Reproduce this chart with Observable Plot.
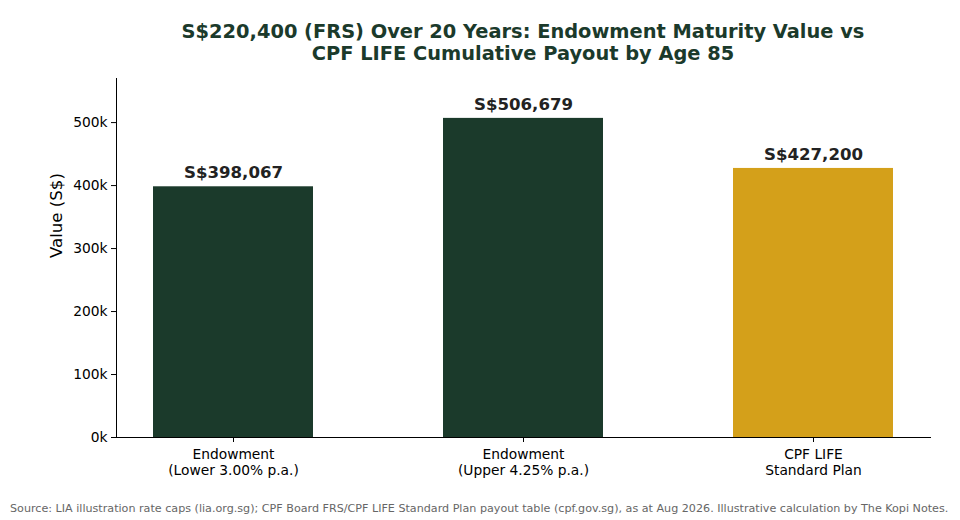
<!DOCTYPE html>
<html><head><meta charset="utf-8">
<script src="https://cdn.jsdelivr.net/npm/d3@7"></script>
<script src="https://cdn.jsdelivr.net/npm/@observablehq/plot@0.6"></script>
<style>
body{margin:0;background:#fff;font-family:"DejaVu Sans",sans-serif;width:960px;height:520px;overflow:hidden;position:relative}
#title{position:absolute;left:73px;width:900px;top:21px;text-align:center;font-weight:bold;font-size:19.4px;line-height:22px;color:#1b3a2b}
#chart{position:absolute;left:0;top:70px}
#cap{position:absolute;left:10px;top:502px;font-size:11.15px;color:#666;white-space:nowrap}
</style></head><body>
<div id="title">S$220,400 (FRS) Over 20 Years: Endowment Maturity Value vs<br>CPF LIFE Cumulative Payout by Age 85</div>
<div id="chart"></div>
<div id="cap">Source: LIA illustration rate caps (lia.org.sg); CPF Board FRS/CPF LIFE Standard Plan payout table (cpf.gov.sg), as at Aug 2026. Illustrative calculation by The Kopi Notes.</div>
<script>
const categories = ["Endowment\n(Lower 3.00% p.a.)", "Endowment\n(Upper 4.25% p.a.)", "CPF LIFE\nStandard Plan"];
const values = [398067, 506679, 427200];
const labels = ["S$398,067", "S$506,679", "S$427,200"];
const colors = ["#1b3a2b", "#1b3a2b", "#d4a01a"];
const yTicks = [0, 100000, 200000, 300000, 400000, 500000];

const data = categories.map((c, i) => ({cat: c, value: values[i], label: labels[i], color: colors[i]}));

const chart = Plot.plot({
  width: 960, height: 420,
  marginTop: 8, marginBottom: 53, marginLeft: 116, marginRight: 30,
  style: {fontFamily: "DejaVu Sans, sans-serif", fontSize: "13.8px", color: "#000", background: "#fff"},
  x: {domain: categories, paddingInner: 0.45, paddingOuter: 0.125, label: null},
  y: {domain: [0, 570000], label: null},
  marks: [
    Plot.barY(data, {x: "cat", y: "value", fill: "color"}),
    Plot.text(data, {x: "cat", y: "value", text: "label", dy: -14, fontSize: 16.6, fontWeight: "bold", fill: "#222"}),
    Plot.axisY({ticks: yTicks, tickFormat: d => d/1000 + "k", tickSize: 5, tickPadding: 4, fontSize: 13.8, label: null}),
    Plot.axisX({tickSize: 5, tickPadding: 6, fontSize: 13.8, lineHeight: 1.12, label: null}),
    Plot.frame({anchor: "left"}),
    Plot.frame({anchor: "bottom"}),
    Plot.text(["Value (S$)"], {frameAnchor: "left", dx: -60, rotate: -90, fontSize: 16.6, fill: "#000"})
  ]
});
document.getElementById("chart").appendChild(chart);
</script>
</body></html>
